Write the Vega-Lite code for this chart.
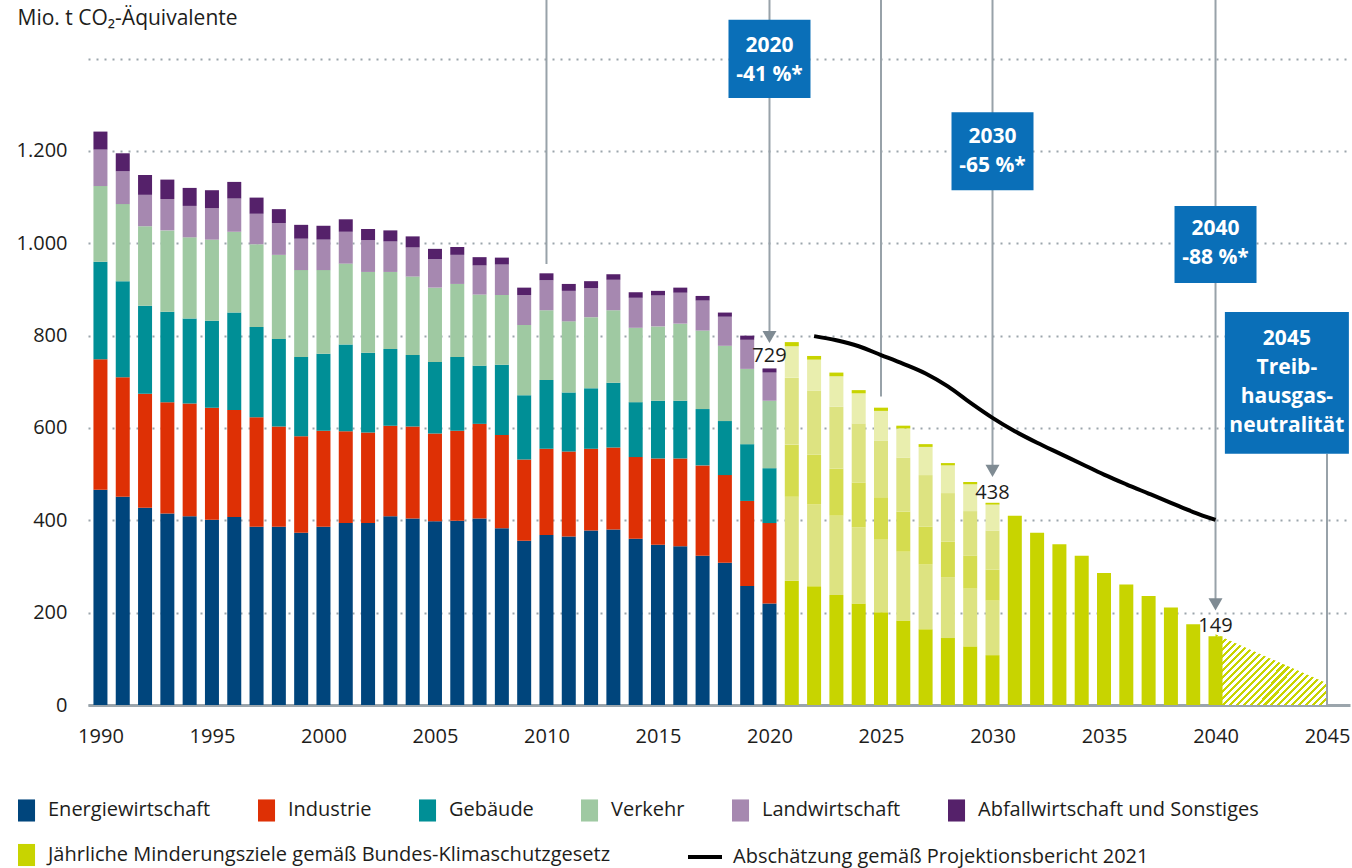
{
  "$schema": "https://vega.github.io/schema/vega-lite/v6.json",
  "width": 1262,
  "height": 705,
  "autosize": {"type": "none"},
  "padding": {"left": 88, "top": 0, "right": 2, "bottom": 163},
  "background": "white",
  "config": {
    "view": {"stroke": null},
    "font": "Open Sans",
    "axis": {"labelFont": "Open Sans", "titleFont": "Open Sans"},
    "legend": {"labelFont": "Open Sans", "titleFont": "Open Sans"}
  },
  "datasets": {
    "sectors": [
      {"k": "E", "sector": "Energiewirtschaft", "rank": 1},
      {"k": "I", "sector": "Industrie", "rank": 2},
      {"k": "G", "sector": "Gebäude", "rank": 3},
      {"k": "V", "sector": "Verkehr", "rank": 4},
      {"k": "L", "sector": "Landwirtschaft", "rank": 5},
      {"k": "A", "sector": "Abfallwirtschaft und Sonstiges", "rank": 6}
    ],
    "hist": [
      {"year": 1990, "E": 466, "I": 283, "G": 211, "V": 164, "L": 79, "A": 39},
      {"year": 1991, "E": 451, "I": 259, "G": 208, "V": 167, "L": 71, "A": 39},
      {"year": 1992, "E": 427, "I": 247, "G": 191, "V": 172, "L": 68, "A": 43},
      {"year": 1993, "E": 415, "I": 241, "G": 196, "V": 176, "L": 68, "A": 42},
      {"year": 1994, "E": 409, "I": 244, "G": 184, "V": 176, "L": 68, "A": 39},
      {"year": 1995, "E": 401, "I": 243, "G": 188, "V": 176, "L": 68, "A": 39},
      {"year": 1996, "E": 407, "I": 232, "G": 211, "V": 175, "L": 72, "A": 36},
      {"year": 1997, "E": 386, "I": 237, "G": 196, "V": 179, "L": 66, "A": 35},
      {"year": 1998, "E": 386, "I": 217, "G": 190, "V": 182, "L": 69, "A": 30},
      {"year": 1999, "E": 373, "I": 209, "G": 172, "V": 188, "L": 68, "A": 30},
      {"year": 2000, "E": 386, "I": 208, "G": 167, "V": 181, "L": 66, "A": 30},
      {"year": 2001, "E": 394, "I": 199, "G": 188, "V": 175, "L": 69, "A": 27},
      {"year": 2002, "E": 394, "I": 196, "G": 173, "V": 175, "L": 69, "A": 24},
      {"year": 2003, "E": 409, "I": 196, "G": 166, "V": 167, "L": 66, "A": 24},
      {"year": 2004, "E": 404, "I": 199, "G": 155, "V": 170, "L": 63, "A": 24},
      {"year": 2005, "E": 398, "I": 190, "G": 155, "V": 161, "L": 62, "A": 22},
      {"year": 2006, "E": 399, "I": 195, "G": 160, "V": 158, "L": 63, "A": 17},
      {"year": 2007, "E": 404, "I": 205, "G": 126, "V": 154, "L": 63, "A": 18},
      {"year": 2008, "E": 383, "I": 202, "G": 152, "V": 151, "L": 66, "A": 15},
      {"year": 2009, "E": 356, "I": 176, "G": 139, "V": 152, "L": 65, "A": 16},
      {"year": 2010, "E": 368, "I": 187, "G": 149, "V": 151, "L": 65, "A": 15},
      {"year": 2011, "E": 365, "I": 184, "G": 128, "V": 154, "L": 66, "A": 15},
      {"year": 2012, "E": 378, "I": 177, "G": 131, "V": 154, "L": 63, "A": 15},
      {"year": 2013, "E": 380, "I": 178, "G": 140, "V": 157, "L": 66, "A": 12},
      {"year": 2014, "E": 360, "I": 177, "G": 119, "V": 161, "L": 65, "A": 12},
      {"year": 2015, "E": 347, "I": 187, "G": 125, "V": 161, "L": 67, "A": 10},
      {"year": 2016, "E": 344, "I": 190, "G": 125, "V": 167, "L": 67, "A": 11},
      {"year": 2017, "E": 323, "I": 196, "G": 122, "V": 170, "L": 65, "A": 10},
      {"year": 2018, "E": 308, "I": 190, "G": 117, "V": 163, "L": 63, "A": 9},
      {"year": 2019, "E": 258, "I": 184, "G": 123, "V": 163, "L": 63, "A": 9},
      {"year": 2020, "E": 220, "I": 174, "G": 119, "V": 146, "L": 61, "A": 9}
    ],
    "targ": [
      {"year": 2021, "E": 269, "I": 182, "G": 113, "V": 145, "L": 68, "A": 9},
      {"year": 2022, "E": 257, "I": 177, "G": 108, "V": 139, "L": 67, "A": 8},
      {"year": 2023, "E": 238, "I": 172, "G": 102, "V": 134, "L": 66, "A": 8},
      {"year": 2024, "E": 220, "I": 165, "G": 97, "V": 128, "L": 65, "A": 7},
      {"year": 2025, "E": 201, "I": 157, "G": 92, "V": 123, "L": 64, "A": 7},
      {"year": 2026, "E": 183, "I": 149, "G": 87, "V": 117, "L": 63, "A": 6},
      {"year": 2027, "E": 164, "I": 140, "G": 82, "V": 112, "L": 61, "A": 6},
      {"year": 2028, "E": 145, "I": 132, "G": 77, "V": 105, "L": 60, "A": 5},
      {"year": 2029, "E": 127, "I": 125, "G": 72, "V": 96, "L": 58, "A": 5},
      {"year": 2030, "E": 108, "I": 118, "G": 67, "V": 85, "L": 56, "A": 4}
    ]
  },
  "encoding": {
    "x": {
      "field": "year",
      "type": "quantitative",
      "scale": {"domain": [1989.666, 2045.806], "nice": false, "zero": false},
      "axis": {
        "values": [1990, 1995, 2000, 2005, 2010, 2015, 2020, 2025, 2030, 2035, 2040, 2045],
        "format": "d",
        "grid": false,
        "ticks": false,
        "domainColor": "#9ba5ac",
        "domainWidth": 3,
        "labelPadding": 21,
        "labelFontSize": 20,
        "labelColor": "#1d1d1b",
        "labelFlush": false,
        "title": null
      }
    }
  },
  "layer": [
    {
      "data": {"values": [{"year": 2040, "value": 153}, {"year": 2045, "value": 47}]},
      "mark": {
        "type": "area",
        "fill": {
          "gradient": "linear", "x1": 0, "y1": 0, "x2": 1.2, "y2": 0.756,
          "stops": [
            {"offset": 0, "color": "#c8d400"}, {"offset": 0.0167, "color": "#c8d400"}, {"offset": 0.0167, "color": "#ffffff"}, {"offset": 0.037, "color": "#ffffff"},
            {"offset": 0.037, "color": "#c8d400"}, {"offset": 0.0537, "color": "#c8d400"}, {"offset": 0.0537, "color": "#ffffff"}, {"offset": 0.0741, "color": "#ffffff"},
            {"offset": 0.0741, "color": "#c8d400"}, {"offset": 0.0907, "color": "#c8d400"}, {"offset": 0.0907, "color": "#ffffff"}, {"offset": 0.1111, "color": "#ffffff"},
            {"offset": 0.1111, "color": "#c8d400"}, {"offset": 0.1278, "color": "#c8d400"}, {"offset": 0.1278, "color": "#ffffff"}, {"offset": 0.1481, "color": "#ffffff"},
            {"offset": 0.1481, "color": "#c8d400"}, {"offset": 0.1648, "color": "#c8d400"}, {"offset": 0.1648, "color": "#ffffff"}, {"offset": 0.1852, "color": "#ffffff"},
            {"offset": 0.1852, "color": "#c8d400"}, {"offset": 0.2019, "color": "#c8d400"}, {"offset": 0.2019, "color": "#ffffff"}, {"offset": 0.2222, "color": "#ffffff"},
            {"offset": 0.2222, "color": "#c8d400"}, {"offset": 0.2389, "color": "#c8d400"}, {"offset": 0.2389, "color": "#ffffff"}, {"offset": 0.2593, "color": "#ffffff"},
            {"offset": 0.2593, "color": "#c8d400"}, {"offset": 0.2759, "color": "#c8d400"}, {"offset": 0.2759, "color": "#ffffff"}, {"offset": 0.2963, "color": "#ffffff"},
            {"offset": 0.2963, "color": "#c8d400"}, {"offset": 0.313, "color": "#c8d400"}, {"offset": 0.313, "color": "#ffffff"}, {"offset": 0.3333, "color": "#ffffff"},
            {"offset": 0.3333, "color": "#c8d400"}, {"offset": 0.35, "color": "#c8d400"}, {"offset": 0.35, "color": "#ffffff"}, {"offset": 0.3704, "color": "#ffffff"},
            {"offset": 0.3704, "color": "#c8d400"}, {"offset": 0.387, "color": "#c8d400"}, {"offset": 0.387, "color": "#ffffff"}, {"offset": 0.4074, "color": "#ffffff"},
            {"offset": 0.4074, "color": "#c8d400"}, {"offset": 0.4241, "color": "#c8d400"}, {"offset": 0.4241, "color": "#ffffff"}, {"offset": 0.4444, "color": "#ffffff"},
            {"offset": 0.4444, "color": "#c8d400"}, {"offset": 0.4611, "color": "#c8d400"}, {"offset": 0.4611, "color": "#ffffff"}, {"offset": 0.4815, "color": "#ffffff"},
            {"offset": 0.4815, "color": "#c8d400"}, {"offset": 0.4981, "color": "#c8d400"}, {"offset": 0.4981, "color": "#ffffff"}, {"offset": 0.5185, "color": "#ffffff"},
            {"offset": 0.5185, "color": "#c8d400"}, {"offset": 0.5352, "color": "#c8d400"}, {"offset": 0.5352, "color": "#ffffff"}, {"offset": 0.5556, "color": "#ffffff"},
            {"offset": 0.5556, "color": "#c8d400"}, {"offset": 0.5722, "color": "#c8d400"}, {"offset": 0.5722, "color": "#ffffff"}, {"offset": 0.5926, "color": "#ffffff"},
            {"offset": 0.5926, "color": "#c8d400"}, {"offset": 0.6093, "color": "#c8d400"}, {"offset": 0.6093, "color": "#ffffff"}, {"offset": 0.6296, "color": "#ffffff"},
            {"offset": 0.6296, "color": "#c8d400"}, {"offset": 0.6463, "color": "#c8d400"}, {"offset": 0.6463, "color": "#ffffff"}, {"offset": 0.6667, "color": "#ffffff"},
            {"offset": 0.6667, "color": "#c8d400"}, {"offset": 0.6833, "color": "#c8d400"}, {"offset": 0.6833, "color": "#ffffff"}, {"offset": 0.7037, "color": "#ffffff"},
            {"offset": 0.7037, "color": "#c8d400"}, {"offset": 0.7204, "color": "#c8d400"}, {"offset": 0.7204, "color": "#ffffff"}, {"offset": 0.7407, "color": "#ffffff"},
            {"offset": 0.7407, "color": "#c8d400"}, {"offset": 0.7574, "color": "#c8d400"}, {"offset": 0.7574, "color": "#ffffff"}, {"offset": 0.7778, "color": "#ffffff"},
            {"offset": 0.7778, "color": "#c8d400"}, {"offset": 0.7944, "color": "#c8d400"}, {"offset": 0.7944, "color": "#ffffff"}, {"offset": 0.8148, "color": "#ffffff"},
            {"offset": 0.8148, "color": "#c8d400"}, {"offset": 0.8315, "color": "#c8d400"}, {"offset": 0.8315, "color": "#ffffff"}, {"offset": 0.8519, "color": "#ffffff"},
            {"offset": 0.8519, "color": "#c8d400"}, {"offset": 0.8685, "color": "#c8d400"}, {"offset": 0.8685, "color": "#ffffff"}, {"offset": 0.8889, "color": "#ffffff"},
            {"offset": 0.8889, "color": "#c8d400"}, {"offset": 0.9056, "color": "#c8d400"}, {"offset": 0.9056, "color": "#ffffff"}, {"offset": 0.9259, "color": "#ffffff"},
            {"offset": 0.9259, "color": "#c8d400"}, {"offset": 0.9426, "color": "#c8d400"}, {"offset": 0.9426, "color": "#ffffff"}, {"offset": 0.963, "color": "#ffffff"},
            {"offset": 0.963, "color": "#c8d400"}, {"offset": 0.9796, "color": "#c8d400"}, {"offset": 0.9796, "color": "#ffffff"}, {"offset": 1, "color": "#ffffff"}
          ]
        }
      },
      "encoding": {
        "y": {
          "field": "value",
          "type": "quantitative",
          "scale": {"domain": [0, 1527], "nice": false},
          "axis": {
            "values": [0, 200, 400, 600, 800, 1000, 1200, 1400],
            "labelExpr": "datum.value == 1400 ? '' : replace(format(datum.value, ','), ',', '.')",
            "grid": true,
            "gridDash": [2, 6],
            "gridColor": "#9ba5ac",
            "gridWidth": 2,
            "domain": false,
            "ticks": false,
            "labelPadding": 21,
            "labelFontSize": 20,
            "labelColor": "#1d1d1b",
            "title": "Mio. t CO₂-Äquivalente",
            "titleAngle": 0,
            "titleAlign": "left",
            "titleBaseline": "middle",
            "titleX": -71,
            "titleY": 18,
            "titleFontSize": 21,
            "titleFontWeight": "normal",
            "titleColor": "#1d1d1b"
          }
        }
      }
    },
    {
      "data": {"name": "hist"},
      "transform": [
        {"fold": ["E", "I", "G", "V", "L", "A"], "as": ["k", "value"]},
        {"lookup": "k", "from": {"data": {"name": "sectors"}, "key": "k", "fields": ["sector", "rank"]}}
      ],
      "mark": {"type": "bar", "size": 14, "orient": "vertical"},
      "encoding": {
        "y": {"field": "value", "type": "quantitative", "stack": "zero", "scale": {"domain": [0, 1527], "nice": false}},
        "color": {
          "field": "sector",
          "type": "nominal",
          "scale": {
            "domain": ["Energiewirtschaft", "Industrie", "Gebäude", "Verkehr", "Landwirtschaft", "Abfallwirtschaft und Sonstiges"],
            "range": ["#00457c", "#de3005", "#008f96", "#9fc9a2", "#a688b0", "#55216a"]
          },
          "legend": {
            "orient": "none",
            "legendX": -70,
            "legendY": 798,
            "direction": "horizontal",
            "columns": 6,
            "title": null,
            "symbolType": "M-1,-0.92H0.42V0.92H-1Z",
            "symbolSize": 576,
            "symbolStrokeWidth": 0,
            "symbolOpacity": 1,
            "labelFontSize": 20,
            "labelColor": "#1d1d1b",
            "labelOffset": 6,
            "labelLimit": 500,
            "columnPadding": 47,
            "padding": 0
          }
        },
        "order": {"field": "rank", "type": "quantitative"}
      }
    },
    {
      "data": {"name": "targ"},
      "transform": [
        {"fold": ["E", "I", "G", "V", "L", "A"], "as": ["k", "value"]},
        {"lookup": "k", "from": {"data": {"name": "sectors"}, "key": "k", "fields": ["sector", "rank"]}}
      ],
      "mark": {"type": "bar", "size": 14, "orient": "vertical"},
      "encoding": {
        "y": {"field": "value", "type": "quantitative", "stack": "zero", "scale": {"domain": [0, 1527], "nice": false}},
        "color": {
          "field": "k",
          "type": "nominal",
          "scale": {
            "domain": ["E", "I", "G", "V", "L", "A"],
            "range": ["#c8d400", "#dde381", "#d5dc4f", "#dde381", "#e9eeae", "#c8d400"]
          },
          "legend": null
        },
        "order": {"field": "rank", "type": "quantitative"}
      }
    },
    {
      "data": {"values": [
        {"year": 2031, "value": 410, "series": "Jährliche Minderungsziele gemäß Bundes-Klimaschutzgesetz"},
        {"year": 2032, "value": 373, "series": "Jährliche Minderungsziele gemäß Bundes-Klimaschutzgesetz"},
        {"year": 2033, "value": 348, "series": "Jährliche Minderungsziele gemäß Bundes-Klimaschutzgesetz"},
        {"year": 2034, "value": 323, "series": "Jährliche Minderungsziele gemäß Bundes-Klimaschutzgesetz"},
        {"year": 2035, "value": 286, "series": "Jährliche Minderungsziele gemäß Bundes-Klimaschutzgesetz"},
        {"year": 2036, "value": 261, "series": "Jährliche Minderungsziele gemäß Bundes-Klimaschutzgesetz"},
        {"year": 2037, "value": 236, "series": "Jährliche Minderungsziele gemäß Bundes-Klimaschutzgesetz"},
        {"year": 2038, "value": 211, "series": "Jährliche Minderungsziele gemäß Bundes-Klimaschutzgesetz"},
        {"year": 2039, "value": 175, "series": "Jährliche Minderungsziele gemäß Bundes-Klimaschutzgesetz"},
        {"year": 2040, "value": 149, "series": "Jährliche Minderungsziele gemäß Bundes-Klimaschutzgesetz"}
      ]},
      "mark": {"type": "bar", "size": 14, "orient": "vertical"},
      "encoding": {
        "y": {"field": "value", "type": "quantitative", "scale": {"domain": [0, 1527], "nice": false}},
        "color": {
          "field": "series",
          "type": "nominal",
          "scale": {"range": ["#c8d400"]},
          "legend": {
            "orient": "none",
            "legendX": -70,
            "legendY": 843,
            "title": null,
            "symbolType": "M-1,-0.92H0.42V0.92H-1Z",
            "symbolSize": 576,
            "symbolStrokeWidth": 0,
            "symbolOpacity": 1,
            "labelFontSize": 20,
            "labelColor": "#1d1d1b",
            "labelOffset": 6,
            "labelLimit": 800,
            "padding": 0
          }
        }
      }
    },
    {
      "data": {"values": [
        {"year": 2010, "value": 1527, "bottom": 955},
        {"year": 2020, "value": 1527, "bottom": 808},
        {"year": 2025, "value": 1527, "bottom": 668},
        {"year": 2030, "value": 1527, "bottom": 517},
        {"year": 2040, "value": 1527, "bottom": 227},
        {"year": 2045, "value": 544, "bottom": 0}
      ]},
      "mark": {"type": "rule", "color": "#98a2a9", "strokeWidth": 2},
      "encoding": {
        "y": {"field": "value", "type": "quantitative", "scale": {"domain": [0, 1527], "nice": false}},
        "y2": {"field": "bottom"}
      }
    },
    {
      "data": {"values": [
        {"year": 2022, "value": 799, "series": "Abschätzung gemäß Projektionsbericht 2021"},
        {"year": 2023, "value": 790, "series": "Abschätzung gemäß Projektionsbericht 2021"},
        {"year": 2024, "value": 777, "series": "Abschätzung gemäß Projektionsbericht 2021"},
        {"year": 2025, "value": 758, "series": "Abschätzung gemäß Projektionsbericht 2021"},
        {"year": 2026, "value": 739, "series": "Abschätzung gemäß Projektionsbericht 2021"},
        {"year": 2027, "value": 718, "series": "Abschätzung gemäß Projektionsbericht 2021"},
        {"year": 2028, "value": 690, "series": "Abschätzung gemäß Projektionsbericht 2021"},
        {"year": 2029, "value": 655, "series": "Abschätzung gemäß Projektionsbericht 2021"},
        {"year": 2030, "value": 622, "series": "Abschätzung gemäß Projektionsbericht 2021"},
        {"year": 2031, "value": 593, "series": "Abschätzung gemäß Projektionsbericht 2021"},
        {"year": 2032, "value": 568, "series": "Abschätzung gemäß Projektionsbericht 2021"},
        {"year": 2033, "value": 545, "series": "Abschätzung gemäß Projektionsbericht 2021"},
        {"year": 2034, "value": 522, "series": "Abschätzung gemäß Projektionsbericht 2021"},
        {"year": 2035, "value": 499, "series": "Abschätzung gemäß Projektionsbericht 2021"},
        {"year": 2036, "value": 478, "series": "Abschätzung gemäß Projektionsbericht 2021"},
        {"year": 2037, "value": 458, "series": "Abschätzung gemäß Projektionsbericht 2021"},
        {"year": 2038, "value": 438, "series": "Abschätzung gemäß Projektionsbericht 2021"},
        {"year": 2039, "value": 418, "series": "Abschätzung gemäß Projektionsbericht 2021"},
        {"year": 2040, "value": 401, "series": "Abschätzung gemäß Projektionsbericht 2021"}
      ]},
      "mark": {"type": "line", "strokeWidth": 4, "interpolate": "monotone"},
      "encoding": {
        "y": {"field": "value", "type": "quantitative", "scale": {"domain": [0, 1527], "nice": false}},
        "color": {
          "field": "series",
          "type": "nominal",
          "scale": {"range": ["#000000"]},
          "legend": {
            "orient": "none",
            "legendX": 598,
            "legendY": 838,
            "title": null,
            "symbolType": "stroke",
            "symbolSize": 1156,
            "symbolStrokeWidth": 4,
            "symbolOpacity": 1,
            "labelFontSize": 20,
            "labelColor": "#1d1d1b",
            "labelOffset": 9,
            "labelLimit": 800,
            "padding": 0
          }
        }
      }
    },
    {
      "data": {"values": [
        {"year": 2020, "value": 797},
        {"year": 2030, "value": 507},
        {"year": 2040, "value": 218}
      ]},
      "mark": {"type": "point", "shape": "triangle-down", "size": 196, "filled": true, "color": "#7f8b93", "opacity": 1},
      "encoding": {
        "y": {"field": "value", "type": "quantitative", "scale": {"domain": [0, 1527], "nice": false}}
      }
    },
    {
      "data": {"values": [
        {"year": 2020, "value": 1484, "lo": 1315},
        {"year": 2030, "value": 1284, "lo": 1115},
        {"year": 2040, "value": 1081, "lo": 914}
      ]},
      "mark": {"type": "bar", "size": 82, "orient": "vertical", "color": "#0a6fb8"},
      "encoding": {
        "y": {"field": "value", "type": "quantitative", "scale": {"domain": [0, 1527], "nice": false}},
        "y2": {"field": "lo"}
      }
    },
    {
      "data": {"values": [
        {"year": 2043.2, "value": 851, "lo": 544}
      ]},
      "mark": {"type": "bar", "size": 124, "orient": "vertical", "color": "#0a6fb8"},
      "encoding": {
        "y": {"field": "value", "type": "quantitative", "scale": {"domain": [0, 1527], "nice": false}},
        "y2": {"field": "lo"}
      }
    },
    {
      "data": {"values": [
        {"year": 2020, "value": 1428, "label": "2020\n-41 %*"},
        {"year": 2030, "value": 1230, "label": "2030\n-65 %*"},
        {"year": 2040, "value": 1031, "label": "2040\n-88 %*"},
        {"year": 2043.2, "value": 792, "label": "2045\nTreib-\nhausgas-\nneutralität"}
      ]},
      "mark": {"type": "text", "color": "#ffffff", "font": "Open Sans", "fontSize": 21, "fontWeight": "bold", "lineBreak": "\n", "lineHeight": 29, "align": "center", "baseline": "middle"},
      "encoding": {
        "y": {"field": "value", "type": "quantitative", "scale": {"domain": [0, 1527], "nice": false}},
        "text": {"field": "label"}
      }
    },
    {
      "data": {"values": [
        {"year": 2020, "value": 755, "label": "729"},
        {"year": 2030, "value": 460, "label": "438"},
        {"year": 2040, "value": 172, "label": "149"}
      ]},
      "mark": {"type": "text", "color": "#1d1d1b", "font": "Open Sans", "fontSize": 20, "align": "center", "baseline": "middle"},
      "encoding": {
        "y": {"field": "value", "type": "quantitative", "scale": {"domain": [0, 1527], "nice": false}},
        "text": {"field": "label"}
      }
    }
  ],
  "resolve": {"scale": {"color": "independent"}}
}
